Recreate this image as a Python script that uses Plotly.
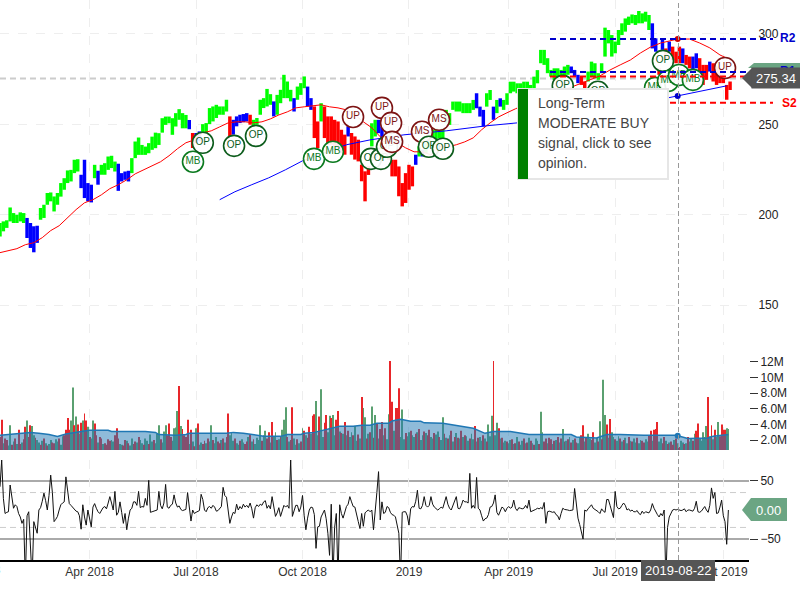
import plotly.graph_objects as go

# ---------- axis labels ----------
TICK_DAYS = [53, 116, 179, 242, 301, 364, 428]
TICK_TEXT = ["Apr 2018", "Jul 2018", "Oct 2018", "2019", "Apr 2019", "Jul 2019", "Oct 2019"]

# ---------- price bars, one every two sessions ----------
HIGHS = [195.4,196.3,196.9,204,200.9,200,201.3,200.9,198.2,195.4,193.6,193.9,203.7,205.5,212,212.3,210.1,212,217.5,220.2,
224.5,224.8,230.4,230.7,222.1,230.4,217.5,216.6,227.6,224.3,227.6,228.5,232.2,232.6,229.4,228.2,223,223.9,224.3,231.3,
240.5,242.7,238.6,237.7,239.6,243.2,245.4,245.1,253.4,254.3,254.3,253.4,256.2,258.4,256.2,255.2,252.4,245.2,245.2,246.1,
250.1,250.7,259,259.9,260.8,259.9,259.9,263.6,254.4,252.5,254.4,255.3,255.7,256.2,255.3,252.5,253.5,263.6,264.5,269.6,
266.7,262.7,266.3,269.1,277.4,273.7,269.1,264.5,270.9,272.8,276.5,270.9,264.5,259.9,251.6,261.7,259.9,254.4,254.4,252.5,
251.6,247,244.3,248.9,245.2,243.3,241.5,227.7,224,227,250.6,252.5,252.5,248.8,243.3,237.8,230.4,230.4,226.7,217.5,
223,227.6,226.7,233.2,237.8,236,239.6,241.4,247,247.9,247,247.9,258,256.2,262.6,262.6,262.6,261.7,261.7,261.7,
263.5,267.2,259.8,258,267.2,269,259.8,263.5,264.4,263.5,267.2,273.6,273.6,272.7,272.7,273.6,273.6,271.8,276.4,280,
291.2,291.2,286.6,280.1,281,281,280.1,282,282.9,282,280.1,277.4,276.4,273.7,279.2,284.7,283.8,278.3,283.8,303.5,
302.2,299.4,295.8,302.2,305.9,308.6,309.6,310.8,310.5,312.7,311.4,312.3,310.5,305.9,297.6,281,297.6,292,295.8,293,
290.2,293,292,288.4,287.5,287.5,289.3,286.6,282.9,282.9,284.7,283.8,282,281,279.2,271.8,273.7]
LOWS = [188,190.8,192.7,196.3,195.4,195.4,196.3,195.4,187.1,181.6,179.2,184.4,197.2,198.2,205.5,207.4,201.8,205.5,210,213.8,
217.5,218.4,223,223.9,214.7,209.2,207.4,206.8,220.2,216.6,222.1,222.1,224.8,225.8,223.9,213.2,218.4,219.3,218.4,223,
231.3,233.1,233.1,233.1,234,235.9,236.8,238.6,245.4,249.7,250.6,244.2,248.8,252.5,247.8,247.8,247.3,236.9,239.7,240.6,
245.2,245.2,250.1,251.6,253.5,255.3,255.3,257.1,243.3,244.3,248.9,250.7,251.2,251.6,249.8,249.4,249.8,255.3,259,259.9,
260.8,254.4,255.3,261.7,264.5,264.5,262.7,257.1,263.6,266.3,270,259.9,258,242.4,236.9,251.6,242.4,238.7,238.7,237.8,
236.9,234.1,233.2,243.3,233.2,230.5,229.5,218.5,207.4,222,237.8,243.3,245.1,241.4,234,230.4,221.2,221.2,210.2,204.6,
206.5,213.8,215.7,227.6,232.2,232.2,234,236.8,242.4,241.4,242.4,242.4,250.6,249.7,258,257.1,257.1,256.2,256.2,256.2,
258,258.9,254.3,248.8,259.8,263.5,252.5,256.2,259.8,258,260.8,267.2,268.1,267.2,270,270,270,269,270,272.7,
283.8,282.9,278.3,276.4,274.6,274.6,274.6,276.4,277.4,278.3,276.4,272.8,271.8,270,273.7,276.4,275.5,274.6,278.3,287.5,
294.8,287.5,289.3,293.9,299.4,301.3,305,305.9,305,305.9,305.9,306.8,302.2,292,290.2,277.4,291.2,285.6,290.2,285.6,
283.8,283.8,283.8,282.9,281,280.1,281,279.2,271.8,274.6,279.2,273.7,271.8,272.8,272.8,263.6,269]
SIGNAL_RUNS = [(8,"G"),(4,"B"),(12,"G"),(4,"B"),(1,"G"),(1,"B"),(5,"G"),(4,"B"),(17,"G"),(1,"B"),(1,"R"),(2,"B"),
(8,"G"),(1,"R"),(5,"B"),(1,"R"),(6,"G"),(1,"B"),(5,"G"),(1,"B"),(3,"G"),(2,"B"),(2,"R"),(1,"G"),(7,"R"),(1,"B"),
(6,"R"),(2,"G"),(2,"B"),(9,"R"),(1,"B"),(1,"G"),(1,"B"),(15,"G"),(3,"B"),(2,"G"),(1,"B"),(1,"G"),(1,"B"),(20,"G"),
(3,"B"),(2,"R"),(19,"G"),(2,"B"),(1,"R"),(1,"B"),(1,"R"),(1,"B"),(3,"R"),(1,"B"),(2,"R"),(2,"B"),(3,"R"),(1,"B"),(6,"R")]

# ---------- moving averages ----------
LONG_MA_DAYS = [0,5,10,15,20,25,30,35,40,45,50,55,60,65,70,75,80,85,90,95,100,105,110,115,120,125,130,135,140,145,150,155,
160,165,170,175,180,185,190,195,200,205,210,215,220,225,230,235,240,245,250,255,260,265,270,275,280,285,290,295,300,305,
320,337,355,361,367,373,379,385,391,396,401,408,414,420,426,431]
LONG_MA = [179,180.1,181.2,183.4,184.5,187.3,191.2,193.9,198.3,202.8,206.6,208.3,211,214.4,216.6,219.3,222.6,224.9,227.1,229.3,
232.6,236.5,239.8,241.4,245.3,246.4,248.6,250.8,251.4,251.4,250.8,251.4,253,255.2,256.9,259.1,259.7,260.2,260.8,259.7,
259.1,258,255.2,251.4,248.1,243.1,241.4,239.8,237,234.8,234.8,233.1,237.6,237.6,238.7,240.3,242.5,247,250.8,254.1,256.4,258.6,
264.6,270.2,276.8,280.1,282.9,285.6,289.5,292.8,295,296.1,297.2,297.2,295,292.3,288.4,286.2]
SLOW_MA_DAYS = [130,139,149,159,169,179,205,219,239,264,288,306,395,401,430]
SLOW_MA = [208.3,212.7,216.6,220.4,224.9,229.8,238.7,241.4,244.2,246.4,249.2,250.8,264.6,265.7,271.3]

# ---------- support and resistance ----------
LEVEL_NAMES = ["R2", "R1", "S1", "S2"]
LEVEL_PRICES = [297.2, 279, 276.5, 261.9]
LAST_PRICE = 275.34

# ---------- opinion badges, in stacking order ----------
BADGE_TEXT = ["MB","OP","OP","OP","MB","MB","UP","UP","OP","OP","OP","UP","MS","MS","OP","OP","MS","OP","OP","MB","OP","MB","MB","MB","UP"]
BADGE_DAY = [114.2,120,138.5,151.5,185.8,197,208.9,226,219.5,225.4,229,231.4,232,249.7,253.8,262.1,259.8,333,353.8,387.6,392.3,395.3,401.8,410,429]
BADGE_PRICE = [229.3,239.8,238.1,243.6,230.9,234.8,254.1,259.1,230.9,230.9,237.6,250.8,240.3,245.9,237.6,236.5,252.5,271.3,268,270.2,285.1,274,277.3,274.6,281.2]

# ---------- daily volume in millions (positive = up day, negative = down day) ----------
SIGNED_VOLUME = [-2.4,-4.6,1.6,-2.2,-2,1.3,3.9,-1.4,1.8,-2.2,1.5,-3.3,-1.5,1.7,-2.1,-3.7,4.5,-2.4,-3.9,3.8,
2.6,-2.3,2,1.7,-1.4,1.9,-2.2,1.6,-1.3,1.5,2,-1.7,-1.6,2.1,1.8,-2.2,1.4,2.5,-2.6,-3.3,
-4.8,-3.3,4.5,8.7,-3.9,5,-4,2.8,-4.2,4.5,-5.4,-4.5,3.7,-2.4,2.2,4.5,-4.1,-2.6,1.7,-2.4,
-2.2,1.5,-1.6,-1.4,-2.1,-1.9,2,1.8,-2.6,-3.5,-2.2,1.5,1.4,-1.3,-2,1.9,-1.6,1.3,2.2,-1.5,
-1.8,1.7,-2.4,2,1.6,-1.4,2.2,1.9,-1.5,2.7,1.8,-2,1.6,2.8,3.9,-2.1,1.7,3.1,3.9,-2.6,
-4.1,-2.4,1.9,3.5,3.6,5.7,-8.9,3.8,-3.4,-2.6,-2.4,-4.6,1.5,-3.3,1.8,-1.2,3.5,-4.1,1.4,1.7,
-1.5,-1.9,1.6,-2.2,1.8,3.9,-2,1.6,2.4,-1.8,-1.6,2,-2.2,1.7,-2.4,-5.4,2.6,3,1.9,-2.2,
1.6,1.4,-1.9,2.1,1.7,-1.5,-1.8,2.4,-2.7,1.8,-2.1,1.5,2.3,2,3.9,-1.9,2.6,3.2,-2.2,-3,
1.7,-4.3,2.4,3,-2,2.1,-2.4,3.3,4.6,6.2,-2.4,1.8,-2,-6.2,2.2,1.4,-2.1,1.6,-1.8,3.5,
-3.2,2.6,-2.3,-3.7,2.8,-5.1,-5.3,7,2.6,-5,8.5,2.4,-4.2,-5.2,3,5.1,-4.8,5.2,2.6,-4.6,
-5.7,3.1,-2.9,2.8,-4.3,2.6,-3.2,2.4,3,-2.6,3.8,1.9,-2.7,2.2,-7.5,6.1,4.9,-2.2,2.8,-3,
6.3,-2.3,5.2,-4.1,2.2,-3.4,-4.3,2.6,-3.5,2.1,5.3,-12.1,-6.9,3.2,-6.1,-6.1,-8.6,2.4,5.9,2.1,
-2.9,2.5,3,-3.2,2.6,2.4,-2.8,3,-3.4,2,2.6,-3.1,2.9,-2.6,-3.3,2.4,2.2,-2.9,2.7,3.1,
-2.4,2,4.9,-2.8,2.3,-2.2,2.6,-3.2,1.8,-2.4,2.9,-2.3,2.2,-3.2,2.4,-2.6,2.5,1.9,-2.2,2.8,
2.1,-3.8,1.8,-2.3,2.4,1.9,-2.6,2.2,-1.8,4,2.5,5.1,-12.1,2.6,4.2,-3.5,2.2,-2.3,1.7,1.9,
-1.8,1.6,2,-2.1,1.5,-1.6,2.4,-1.8,1.4,1.9,-2.2,1.6,-1.7,2.3,-1.9,1.6,-1.4,2.2,1.9,-1.5,
5.6,3,-1.8,-2.2,1.6,-2.3,-2.1,1.5,-1.9,2,-2.4,1.7,-2.2,3.4,-1.8,1.9,-2.1,2.4,-1.7,2,
-2.2,-1.7,1.6,2.4,-2.6,-3.9,1.8,-2.4,2.8,2.2,-2,-3,1.7,2.3,-1.8,4.4,-2.1,9.7,5.2,-4,
2.3,-4.7,3,2.4,-2.1,1.9,2.5,-2.2,1.8,-2,2.3,1.6,-2.4,1.9,-1.8,2.2,1.7,-2.3,1.6,2,
-1.9,-1.7,2.1,1.8,-2.6,-3.2,1.9,-3.3,-3.4,-4.3,1.8,2.2,-1.6,-2.4,1.9,-1.5,1.7,-1.8,-1.4,2,
-2.2,1.6,-1.1,1.9,1.7,-1.5,1.6,-2.4,1.8,2.2,-1.9,2.8,-3.2,-4.1,2.2,1.9,3,2.4,3.8,-7.5,
2.5,-3.9,2.1,-3.3,2.4,4.3,-2.5,-4,-3.3,-3.3,3.5,3.4]
AVG_VOL_DAYS = [0,6,18,23,29,34,39,48,53,64,66,86,92,94,104,110,112,134,138,144,150,156,166,170,178,180,186,191,197,201,209,214,219,223,230,232,237,
243,249,251,262,272,280,287,292,302,313,338,341,353,359,367,381,400,407,419,422,431]
AVG_VOL = [2.6,2.7,2.98,2.86,2.7,2.47,2.77,3.1,3.24,3.24,3.1,3.1,2.98,2.7,2.6,2.7,2.86,2.86,2.98,2.86,2.7,2.5,2.47,2.7,2.7,2.86,2.98,3.24,3.5,3.75,3.75,3.9,3.9,4.13,4.13,4.43,4.65,
4.39,4.39,4.2,4.13,3.75,3.5,2.86,3.1,3.1,2.7,2.7,2.4,2.26,2.7,2.7,2.6,2.6,2.2,2.26,2.5,2.7]

# ---------- oscillator, one value per session (below -86 runs off the panel) ----------
OSCILLATOR = [40,86,20,-6,-4,-3,43,20,3,9,6,-6,-12,-23,-16,-120,-10,-3,-120,-120,
-20,-32,-40,0,4,15,29,16,0,25,60,30,-20,-16,-11,0,9,12,14,57,
30,11,8,4,0,-2,-3,-10,-33,9,-12,-26,0,-15,-29,5,11,3,-3,-6,
-1,4,6,2,12,23,12,0,32,-9,-4,14,-4,-23,-6,-34,-14,0,3,14,
14,8,32,4,6,5,20,8,51,-4,-3,-2,0,0,32,8,2,12,44,5,
3,8,10,26,12,5,7,1,-1,0,1,30,5,-19,0,-6,-4,-2,-1,27,
18,0,-3,4,6,3,8,5,-2,-1,2,6,39,25,22,-5,-23,-12,-4,-6,
10,0,6,2,10,5,8,4,12,2,-14,4,9,6,10,8,14,16,3,8,
2,23,8,-11,-5,4,-11,0,8,5,8,3,86,-11,0,8,8,-3,5,25,
-10,-34,-14,0,5,4,-8,-66,-29,-28,-12,-6,0,-15,-40,-78,10,-120,-30,-6,
-120,9,-6,-14,-4,6,10,23,14,6,5,-10,-20,-32,-6,-28,-5,-2,0,-3,
0,-34,6,30,66,-17,14,-6,-4,6,4,-4,-8,-9,-12,-25,-40,-120,-4,-3,
-3,-10,-26,2,6,5,15,34,3,2,8,23,8,5,8,23,10,5,3,0,
2,5,3,12,23,10,3,0,8,14,23,3,2,8,17,14,14,12,63,3,
8,3,56,3,0,-10,-19,-15,-14,-8,5,6,12,26,-4,-9,0,5,3,-3,
3,6,3,5,17,3,-1,4,3,2,3,8,3,17,-3,-2,-1,1,3,2,
4,2,13,-23,-3,-2,-3,-4,-3,-8,-10,-17,-6,3,1,1,0,-1,-1,0,
37,5,-14,-25,-40,-50,0,-2,2,5,9,3,1,0,-3,-6,2,-2,-4,18,
18,8,-2,-13,32,6,2,3,8,12,8,0,2,-2,0,-3,-3,-1,-6,-8,
-2,-6,-3,-4,-5,0,11,3,-3,-8,-12,-6,-10,0,-120,-30,-12,-6,0,1,
0,1,0,-1,0,2,-3,0,0,-1,-2,3,15,-3,-4,-2,3,6,0,-4,
8,38,20,30,-6,-5,5,17,-10,-20,-59,0]
OSC_BANDS = [50, -50]
OSC_GUIDES = [30, -30]
HOVER_DAY = 401
HOVER_DATE = "2019-08-22"
TOOLTIP_LINES = ["Long-Term", "MODERATE BUY", "signal, click to see", "opinion."]

FONT = "Liberation Sans, Arial, sans-serif"
W, H, PLOT_R = 800, 600, 749
def px(x): return x / PLOT_R
def py(y): return 1 - y / H

sig = "".join(letter * n for n, letter in SIGNAL_RUNS)
price_days = [i * 2 for i in range(len(HIGHS))]
SIG_COLOR = {"G": "#00ff00", "B": "#0000ff", "R": "#ff0000"}

fig = go.Figure()
for key, col in SIG_COLOR.items():
    idx = [i for i, s in enumerate(sig) if s == key and i < len(HIGHS)]
    fig.add_trace(go.Bar(x=[price_days[i] for i in idx], base=[LOWS[i] for i in idx],
                         y=[HIGHS[i] - LOWS[i] for i in idx], width=2.05,
                         marker=dict(color=col, line=dict(width=0)), hoverinfo="skip"))
fig.add_trace(go.Scatter(x=LONG_MA_DAYS, y=LONG_MA, mode="lines", line=dict(color="#ff0000", width=1), hoverinfo="skip"))
fig.add_trace(go.Scatter(x=SLOW_MA_DAYS, y=SLOW_MA, mode="lines", line=dict(color="#0000ff", width=1), hoverinfo="skip"))
fig.add_trace(go.Scatter(x=[HOVER_DAY], y=[297.2], mode="markers", marker=dict(color="#d00000", size=6), hoverinfo="skip"))
fig.add_trace(go.Scatter(x=[HOVER_DAY], y=[265.7], mode="markers", marker=dict(color="#0000cc", size=6), hoverinfo="skip"))
for t, d, p in zip(BADGE_TEXT, BADGE_DAY, BADGE_PRICE):
    dark = {"MB": "#0b7a1f", "OP": "#0d5c1c", "UP": "#7d1414", "MS": "#7d1414"}[t]
    fig.add_trace(go.Scatter(x=[d], y=[p], mode="markers+text", text=[t], textposition="middle center",
                             textfont=dict(size=10, color=dark, family=FONT),
                             marker=dict(size=21, color="rgba(255,255,255,0.92)", line=dict(color=dark, width=1.6)),
                             hoverinfo="skip"))

vol_days = list(range(len(SIGNED_VOLUME)))
up = [d for d in vol_days if SIGNED_VOLUME[d] > 0]
dn = [d for d in vol_days if SIGNED_VOLUME[d] < 0]
fig.add_trace(go.Bar(x=up, y=[SIGNED_VOLUME[d] for d in up], xaxis="x2", yaxis="y2", width=0.55,
                     marker=dict(color="#5aa070", line=dict(width=0)), hoverinfo="skip"))
fig.add_trace(go.Bar(x=dn, y=[-SIGNED_VOLUME[d] for d in dn], xaxis="x2", yaxis="y2", width=0.55,
                     marker=dict(color="#e8262a", line=dict(width=0)), hoverinfo="skip"))
fig.add_trace(go.Scatter(x=AVG_VOL_DAYS, y=AVG_VOL, xaxis="x2", yaxis="y2", mode="lines", fill="tozeroy",
                         fillcolor="rgba(31,119,180,0.5)", line=dict(color="#1f77b4", width=1.5), hoverinfo="skip"))
fig.add_trace(go.Scatter(x=[HOVER_DAY], y=[2.55], xaxis="x2", yaxis="y2", mode="markers",
                         marker=dict(color="#1f77b4", size=6), hoverinfo="skip"))
fig.add_trace(go.Scatter(x=list(range(len(OSCILLATOR))), y=OSCILLATOR, xaxis="x3", yaxis="y3", mode="lines",
                         line=dict(color="#111111", width=1), hoverinfo="skip"))

xrange = [0, PLOT_R / 1.69]
xbase = dict(range=xrange, tickvals=TICK_DAYS, ticktext=TICK_TEXT, showgrid=True, gridcolor="#eeeeee",
             griddash="dash", gridwidth=1, zeroline=False, ticks="", domain=[0, 1],
             tickfont=dict(size=12, color="#333333", family=FONT))
ybase = dict(side="right", zeroline=False, tickfont=dict(size=12, color="#222222", family=FONT))
shapes = []
shapes.append(dict(type="line", xref="paper", yref="y", x0=0, x1=1, y0=LAST_PRICE, y1=LAST_PRICE,
                   line=dict(color="#cccccc", width=2, dash="6px,4px"), layer="below"))
for name, lev in zip(LEVEL_NAMES, LEVEL_PRICES):
    col = "#0000cc" if name[0] == "R" else "#ff0000"
    shapes.append(dict(type="line", xref="paper", yref="y", x0=px(550), x1=px(773), y0=lev, y1=lev,
                       line=dict(color=col, width=2, dash="6px,4px")))
shapes.append(dict(type="line", xref="paper", yref="paper", x0=px(678.5), x1=px(678.5), y0=py(560), y1=1,
                   line=dict(color="#999999", width=1, dash="5px,3px")))
for g in OSC_BANDS:
    shapes.append(dict(type="line", xref="paper", yref="y3", x0=0, x1=1, y0=g, y1=g, line=dict(color="#aaaaaa", width=2), layer="below"))
for g in OSC_GUIDES:
    shapes.append(dict(type="line", xref="paper", yref="y3", x0=0, x1=1, y0=g, y1=g,
                       line=dict(color="#cccccc", width=1, dash="6px,4px"), layer="below"))
def rect(x0, y0, x1, y1, fill, line=None):
    return dict(type="rect", xref="paper", yref="paper", x0=px(x0), x1=px(x1), y0=py(y1), y1=py(y0),
                fillcolor=fill, line=dict(width=2 if line else 0, color=line or fill))
def poly(pts, fill):
    d = "M" + "L".join(f"{px(a):.5f},{py(b):.5f}" for a, b in pts) + "Z"
    return dict(type="path", xref="paper", yref="paper", path=d, fillcolor=fill, line=dict(width=0))
shapes.append(rect(518, 89, 668, 179, "#ffffff", "#e6e6e6"))
shapes.append(rect(518, 89, 528, 179, "#008000"))
shapes.append(poly([(748, 68), (754, 63), (800, 63), (800, 68)], "#6ba583"))
shapes.append(poly([(742, 78), (752, 68), (753, 68), (753, 88), (752, 88)], "#555555"))
shapes.append(poly([(742, 510), (751, 498), (787, 498), (787, 521), (751, 521)], "#6ba583"))
shapes.append(rect(641, 560, 715, 581, "#555555"))

def label(x, y, text, color, size=12, bold=False, xanchor="center", **kw):
    return dict(xref="paper", yref="paper", x=px(x), y=py(y), text=f"<b>{text}</b>" if bold else text,
                showarrow=False, xanchor=xanchor, yanchor="middle", borderpad=0,
                font=dict(size=size, color=color, family=FONT), **kw)
annos = [label(-24, 570, "Jan 2018", "#333333"),
         label(788, 38, "R2", "#0000cc", 12, True),
         label(788, 71, "R1", "#0000cc", 12, True),
         label(789, 103, "S2", "#ff0000", 12, True),
         label(776, 78, f"{LAST_PRICE:.2f}", "#ffffff", 13, bgcolor="#555555", width=48, height=20),
         label(768, 510, "0.00", "#ffffff", 13),
         label(678, 570, HOVER_DATE, "#ffffff", 13)]
for i, line in enumerate(TOOLTIP_LINES):
    annos.append(label(536.5, 103 + 20 * i, line, "#444444", 14, xanchor="left"))

fig.update_layout(
    width=W, height=H, autosize=False, margin=dict(l=0, r=W - PLOT_R, t=0, b=0),
    paper_bgcolor="#ffffff", plot_bgcolor="#ffffff", showlegend=False, barmode="overlay",
    shapes=shapes, annotations=annos, hovermode=False,
    xaxis={**xbase, "anchor": "y", "showticklabels": False},
    xaxis2={**xbase, "anchor": "y2", "showticklabels": False},
    xaxis3={**xbase, "anchor": "y3", "showline": True, "linecolor": "#000000", "linewidth": 1.5},
    yaxis={**ybase, "domain": [py(345), 1], "range": [127.9, 318.8], "tickvals": [150, 200, 250, 300],
           "showgrid": True, "gridcolor": "#eeeeee", "griddash": "dash", "ticks": "outside",
           "ticklen": 6, "tickcolor": "rgba(0,0,0,0)"},
    yaxis2={**ybase, "domain": [py(450), py(355)], "range": [0.73, 12.86], "showgrid": False,
            "tickvals": [2, 4, 6, 8, 10, 12], "ticktext": ["2.0M", "4.0M", "6.0M", "8.0M", "10M", "12M"],
            "ticks": "outside", "ticklen": 8, "tickcolor": "#333333"},
    yaxis3={**ybase, "domain": [py(560), py(460)], "range": [-86, 86], "showgrid": False,
            "tickvals": [-50, 50], "ticks": "outside", "ticklen": 8, "tickcolor": "#333333"},
)
fig.write_html("out.html", post_script="document.body.style.margin='0';", config={"displayModeBar": False})
